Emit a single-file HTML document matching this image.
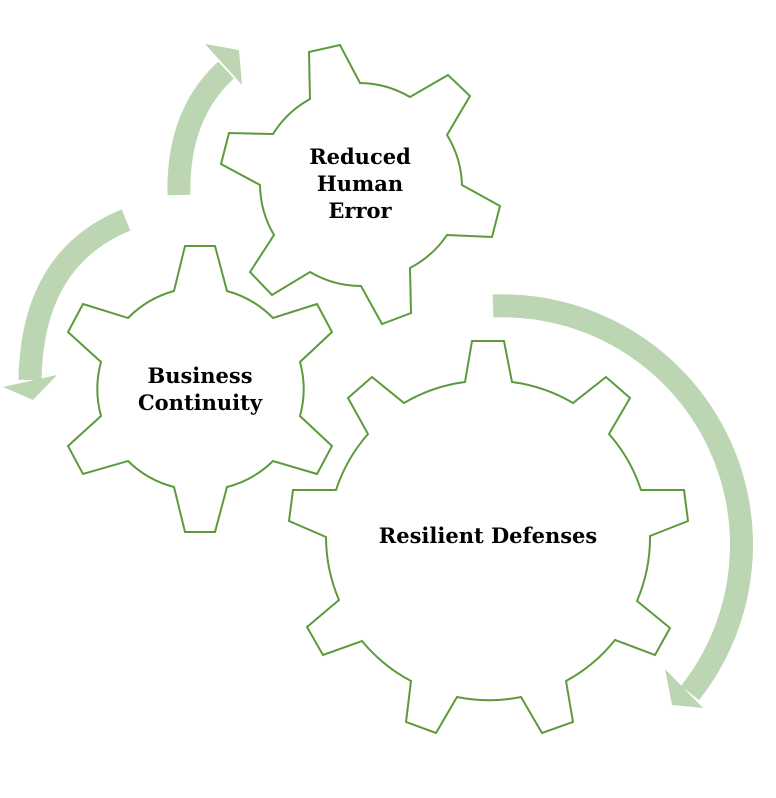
<!DOCTYPE html>
<html><head><style>body{margin:0;background:#fff}svg{display:block}</style></head><body>
<svg width="776" height="798" viewBox="0 0 776 798" xmlns="http://www.w3.org/2000/svg">
<g fill="none" stroke="#bcd5b3" stroke-width="23">
<path d="M179,195 Q177,115 226,70"/>
<path d="M126,220 Q32,258 30,380"/>
<path d="M493,306 A 239 239 0 0 1 690,693"/>
</g>
<g fill="#bcd5b3">
<polygon points="205,44 239,50 242,85"/>
<polygon points="3,387 57,375 33,400"/>
<polygon points="665,669 703,708 672,705"/>
</g>
<g fill="#fff" stroke="#5e9a3c" stroke-width="2" stroke-linejoin="miter">
<path d="M309,52 L340,45 L360,83 A101 101 0 0 1 410,97 L448,75 L470,96 L447,135 A101 101 0 0 1 462,185 L500,206 L492,237 L447,235 A101 101 0 0 1 410,268 L411,313 L382,324 L361,286 A101 101 0 0 1 310,272 L272,295 L250,272 L274,235 A101 101 0 0 1 260,185 L221,164 L229,133 L273,134 A101 101 0 0 1 310,99 Z"/>
<path d="M185,246 L215,246 L227,291 A102 102 0 0 1 273,318 L317,304 L332,332 L300,362 A102 102 0 0 1 300,416 L332,446 L317,474 L273,461 A102 102 0 0 1 227,487 L215,532 L185,532 L174,487 A102 102 0 0 1 128,461 L83,474 L68,446 L101,416 A102 102 0 0 1 101,362 L68,332 L83,304 L128,318 A102 102 0 0 1 174,291 Z"/>
<path d="M472,341 L504,341 L512,382 A161 161 0 0 1 573,403 L606,377 L630,398 L609,434 A161 161 0 0 1 641,490 L684,490 L688,521 L650,536 A161 161 0 0 1 637,601 L670,628 L655,655 L615,640 A161 161 0 0 1 566,681 L573,722 L542,733 L521,697 A161 161 0 0 1 457,697 L436,733 L406,722 L411,681 A161 161 0 0 1 362,641 L323,655 L307,627 L339,600 A161 161 0 0 1 326,537 L289,521 L293,490 L336,490 A161 161 0 0 1 368,434 L348,398 L372,377 L404,403 A161 161 0 0 1 465,382 Z"/>
</g>
<g font-family="DejaVu Serif, serif" font-weight="bold" font-size="21" fill="#000" text-anchor="middle">
<text x="360" y="164">Reduced</text>
<text x="360" y="191">Human</text>
<text x="360" y="218">Error</text>
<text x="200" y="383">Business</text>
<text x="200" y="410">Continuity</text>
<text x="488" y="543">Resilient Defenses</text>
</g>
</svg>
</body></html>
